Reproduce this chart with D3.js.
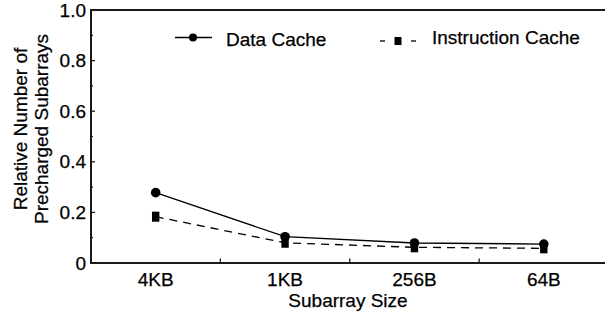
<!DOCTYPE html>
<html>
<head>
<meta charset="utf-8">
<script src="https://cdn.jsdelivr.net/npm/d3@7"></script>
<style>
  body { margin: 0; background: #fff; }
  svg { display: block; font-family: "Liberation Sans", Arial, sans-serif; }
  svg text { fill: #000; stroke: #000; stroke-width: 0.25px; }
</style>
</head>
<body>
<div id="chart"></div>
<script>
// chart values
var sizes = ["4KB", "1KB", "256B", "64B"];
var dataCache = [0.278, 0.104, 0.079, 0.075];
var instrCache = [0.183, 0.080, 0.062, 0.058];
var yTicks = [0, 0.2, 0.4, 0.6, 0.8, 1.0];
var yMinorTicks = [0.1, 0.3, 0.5, 0.7, 0.9];

var width = 605, height = 312;
var plotLeft = 91, plotTop = 10, plotBottom = 263, plotRight = 605;

var svg = d3.select("#chart").append("svg")
    .attr("width", width)
    .attr("height", height);

// scales
var x = d3.scaleBand().domain(sizes).range([plotLeft, 608.5]);
var y = d3.scaleLinear().domain([0, 1]).range([plotBottom, plotTop]);

var axisColor = "#1a1a1a";

// frame: left axis, top line, bottom axis
svg.append("path")
   .attr("d", "M" + plotRight + "," + y(1) + "H" + plotLeft + "V" + y(0) + "H" + plotRight)
   .attr("fill", "none")
   .attr("stroke", axisColor)
   .attr("stroke-width", 2);

// y ticks (inside)
svg.selectAll(".ytick")
   .data(yTicks)
   .enter().append("line")
   .attr("x1", plotLeft).attr("x2", plotLeft + 4)
   .attr("y1", function(d) { return y(d); })
   .attr("y2", function(d) { return y(d); })
   .attr("stroke", axisColor).attr("stroke-width", 1.3);

svg.selectAll(".ymtick")
   .data(yMinorTicks)
   .enter().append("line")
   .attr("x1", plotLeft).attr("x2", plotLeft + 2)
   .attr("y1", function(d) { return y(d); })
   .attr("y2", function(d) { return y(d); })
   .attr("stroke", axisColor).attr("stroke-width", 1.2);

svg.selectAll(".ylabel")
   .data(yTicks)
   .enter().append("text")
   .attr("x", 86)
   .attr("y", function(d) { return y(d) + 6.5; })
   .attr("text-anchor", "end")
   .attr("font-size", "19px")
   .text(function(d) { return d === 0 ? "0" : d3.format(".1f")(d); });

// x ticks at category boundaries, pointing up
svg.selectAll(".xtick")
   .data(sizes.slice(1))
   .enter().append("line")
   .attr("x1", function(d) { return x(d); })
   .attr("x2", function(d) { return x(d); })
   .attr("y1", plotBottom).attr("y2", plotBottom - 4.5)
   .attr("stroke", axisColor).attr("stroke-width", 1.3);

svg.selectAll(".xlabel")
   .data(sizes)
   .enter().append("text")
   .attr("x", function(d) { return x(d) + x.bandwidth() / 2; })
   .attr("y", 286)
   .attr("text-anchor", "middle")
   .attr("font-size", "19px")
   .text(function(d) { return d; });

// axis titles
svg.append("text")
   .attr("x", (plotLeft + plotRight) / 2)
   .attr("y", 307)
   .attr("text-anchor", "middle")
   .attr("font-size", "19px")
   .text("Subarray Size");

var yTitle = svg.append("text")
   .attr("transform", "translate(26.5,129) rotate(-90)")
   .attr("text-anchor", "middle")
   .attr("font-size", "19px");
yTitle.append("tspan").attr("x", 0).attr("y", 0).text("Relative Number of");
yTitle.append("tspan").attr("x", 0).attr("y", 21.5).text("Precharged Subarrays");

// lines
var cx = function(d, i) { return x(sizes[i]) + x.bandwidth() / 2; };
var line = d3.line()
    .x(function(d, i) { return cx(d, i); })
    .y(function(d) { return y(d); });

svg.append("path")
   .attr("d", line(dataCache))
   .attr("fill", "none")
   .attr("stroke", "#000")
   .attr("stroke-width", 1.3);

svg.append("path")
   .attr("d", line(instrCache))
   .attr("fill", "none")
   .attr("stroke", "#000")
   .attr("stroke-width", 1.3)
   .attr("stroke-dasharray", "8,6");

svg.selectAll(".dot")
   .data(dataCache)
   .enter().append("circle")
   .attr("cx", cx)
   .attr("cy", function(d) { return y(d); })
   .attr("r", 4.8)
   .attr("fill", "#000");

svg.selectAll(".sq")
   .data(instrCache)
   .enter().append("rect")
   .attr("x", function(d, i) { return cx(d, i) - 3.7; })
   .attr("y", function(d) { return y(d) - 5; })
   .attr("width", 7.4)
   .attr("height", 10)
   .attr("fill", "#000");

// legend
var lg = svg.append("g");
lg.append("line")
  .attr("x1", 175).attr("x2", 212).attr("y1", 37.5).attr("y2", 37.5)
  .attr("stroke", "#000").attr("stroke-width", 1.3);
lg.append("circle").attr("cx", 193).attr("cy", 37.5).attr("r", 4).attr("fill", "#000");
lg.append("text").attr("x", 226).attr("y", 46)
  .attr("font-size", "19px").text("Data Cache");

lg.append("line")
  .attr("x1", 380).attr("x2", 385).attr("y1", 41).attr("y2", 41)
  .attr("stroke", "#000").attr("stroke-width", 1.3);
lg.append("line")
  .attr("x1", 411).attr("x2", 416).attr("y1", 41).attr("y2", 41)
  .attr("stroke", "#000").attr("stroke-width", 1.3);
lg.append("rect").attr("x", 394.5).attr("y", 37).attr("width", 7).attr("height", 8).attr("fill", "#000");
lg.append("text").attr("x", 432).attr("y", 43.5)
  .attr("font-size", "19px").text("Instruction Cache");
</script>
</body>
</html>
